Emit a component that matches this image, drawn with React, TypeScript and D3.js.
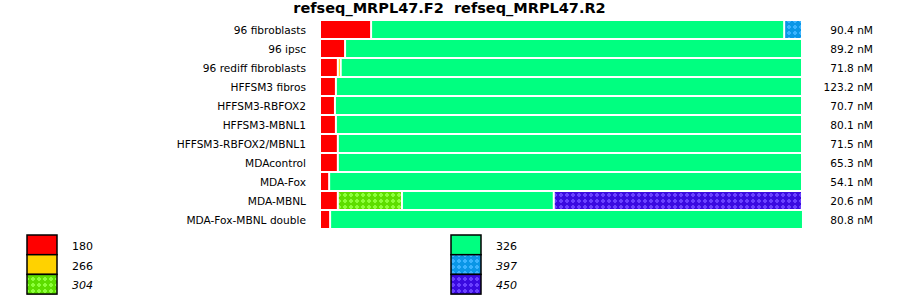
import React from "react";
import * as d3 from "d3";

const title = "refseq_MRPL47.F2\u00a0\u00a0refseq_MRPL47.R2";
const samples = [
  "96 fibroblasts",
  "96 ipsc",
  "96 rediff fibroblasts",
  "HFFSM3 fibros",
  "HFFSM3-RBFOX2",
  "HFFSM3-MBNL1",
  "HFFSM3-RBFOX2/MBNL1",
  "MDAcontrol",
  "MDA-Fox",
  "MDA-MBNL",
  "MDA-Fox-MBNL double",
];
const concentrations = ["90.4 nM", "89.2 nM", "71.8 nM", "123.2 nM", "70.7 nM", "80.1 nM", "71.5 nM", "65.3 nM", "54.1 nM", "20.6 nM", "80.8 nM"];
const peaks = ["180", "266", "304", "326", "397", "450"];
const peakItalic = [false, false, true, false, true, true];
const peakColors = ["#ff0000", "#ffd200", "#5ddd00", "#00ff80", "#0a96e6", "#3a0ae0"];
const peakDots = [null, null, "#8cff3a", null, "#3cb4ff", "#6a40ff"];
// percentage of each peak per sample, order: 180, 266, 304, 326, 397, 450
const v180 = [10.6, 5.2, 3.7, 3.3, 3.1, 3.3, 3.7, 3.7, 1.9, 3.7, 2.1];
const v266 = [0, 0, 0.6, 0, 0, 0, 0, 0, 0, 0, 0];
const v304 = [0, 0, 0, 0, 0, 0, 0, 0, 0, 13.3, 0];
const v326 = [85.7, 94.8, 95.7, 96.7, 96.9, 96.7, 96.3, 96.3, 98.1, 31.5, 98.1];
const v397 = [3.7, 0, 0, 0, 0, 0, 0, 0, 0, 0, 0];
const v450 = [0, 0, 0, 0, 0, 0, 0, 0, 0, 51.5, 0];

const series = [v180, v266, v304, v326, v397, v450];

export default function App() {
  const width = 900;
  const height = 299;
  const font = "DejaVu Sans, sans-serif";
  const x = d3.scaleLinear().domain([0, 100]).range([321, 803]);
  const y = d3
    .scalePoint()
    .domain(samples)
    .range([21, 21 + 19 * (samples.length - 1)]);
  const rowY = (i: number) => y(samples[i]) as number;
  const bh = 17;

  const fill = (k: number) => (peakDots[k] ? `url(#pat${k})` : peakColors[k]);

  const segs: { k: number; i: number; x0: number; x1: number }[] = [];
  samples.forEach((s, i) => {
    let cum = 0;
    series.forEach((arr, k) => {
      const v = arr[i];
      if (v > 0) {
        segs.push({ k, i, x0: x(cum), x1: x(cum + v) - 2 });
        cum += v;
      }
    });
  });

  const legendPos = (k: number) => {
    const col = k < 3 ? 0 : 1;
    const r = k % 3;
    return { bx: col === 0 ? 27 : 451, by: 235 + r * 19.7, tx: col === 0 ? 72 : 496 };
  };

  return (
    <svg width={width} height={height} style={{ position: "absolute", left: 0, top: 0, background: "#fff" }}>
      <defs>
        {peakDots.map((dc, k) =>
          dc ? (
            <pattern key={k} id={`pat${k}`} width={6} height={6} patternUnits="userSpaceOnUse">
              <rect width={6} height={6} fill={peakColors[k]} />
              <rect x={2} y={1} width={2} height={4} fill={dc} />
              <rect x={1} y={2} width={4} height={2} fill={dc} />
            </pattern>
          ) : null
        )}
      </defs>
      <rect width={width} height={height} fill="#fff" />
      <text x={449.5} y={13} textAnchor="middle" fontFamily={font} fontWeight="bold" fontSize={14.5} fill="#000">
        {title}
      </text>
      {samples.map((s, i) => (
        <text key={s} x={306} y={rowY(i) + 12.5} textAnchor="end" fontFamily={font} fontSize={10.6} fill="#000">
          {s}
        </text>
      ))}
      {segs.map((d, j) => (
        <rect key={j} x={d.x0} y={rowY(d.i)} width={Math.max(1, d.x1 - d.x0)} height={bh} fill={fill(d.k)} />
      ))}
      {concentrations.map((c, i) => (
        <text key={i} x={873} y={rowY(i) + 12.5} textAnchor="end" fontFamily={font} fontSize={10.6} fill="#000">
          {c}
        </text>
      ))}
      {peaks.map((p, k) => {
        const { bx, by, tx } = legendPos(k);
        return (
          <g key={p}>
            <rect x={bx} y={by} width={30} height={19.7} fill={fill(k)} stroke="#000" strokeWidth={1.5} />
            <text x={tx} y={by + 15} fontFamily={font} fontSize={11} fontStyle={peakItalic[k] ? "italic" : "normal"} fill="#000">
              {p}
            </text>
          </g>
        );
      })}
    </svg>
  );
}
